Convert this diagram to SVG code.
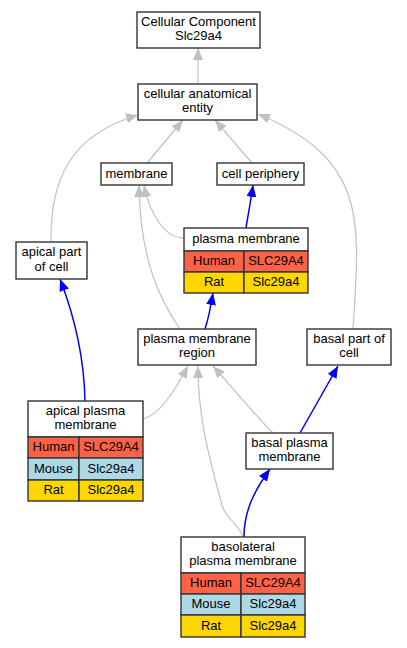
<svg xmlns="http://www.w3.org/2000/svg" width="407" height="648" viewBox="0 0 407 648">
<style>
text{font-family:"Liberation Sans",Arial,sans-serif;font-size:13px;fill:#000;text-anchor:middle}
.b{fill:#fff;stroke:#333;stroke-width:1.4}
.h{fill:#ff6347;stroke:#333;stroke-width:1.4}
.m{fill:#add8e6;stroke:#333;stroke-width:1.4}
.r{fill:#ffd700;stroke:#333;stroke-width:1.4}
.g{fill:none;stroke:#c0c0c0;stroke-width:1.2;marker-end:url(#ag)}
.u{fill:none;stroke:#0000ff;stroke-width:1.5;marker-end:url(#ab)}
</style>
<defs>
<marker id="ag" markerWidth="12" markerHeight="10" refX="12" refY="5" orient="auto" markerUnits="userSpaceOnUse"><path d="M0,0 L12,5 L0,10 z" fill="#c0c0c0"/></marker>
<marker id="ab" markerWidth="12" markerHeight="10" refX="12" refY="5" orient="auto" markerUnits="userSpaceOnUse"><path d="M0,0 L12,5 L0,10 z" fill="#0000ff"/></marker>
</defs>
<rect width="407" height="648" fill="#fff"/>
<g id="connectors">
<path class="g" d="M198,84 L198,48"/>
<path class="g" d="M147,163 L183,120"/>
<path class="g" d="M252,163 L215,120"/>
<path class="g" d="M51,242 C50,180 70,135 138,115"/>
<path class="g" d="M353,329 C360,220 368,160 258,114"/>
<path class="g" d="M184,238 C165,238 150,215 144,185"/>
<path class="g" d="M180,329 C160,300 140,260 139,185"/>
<path class="u" d="M246,228 C248,215 251,200 253,185"/>
<path class="u" d="M205,329 C208,320 211,305 213,293"/>
<path class="u" d="M85,401 C84,350 72,310 60,279"/>
<path class="g" d="M143,419 C160,415 175,390 188,366"/>
<path class="g" d="M273,433 C255,415 230,385 213,366"/>
<path class="g" d="M243,537 C238,522 226,520 222,505 C210,460 198,420 198,366"/>
<path class="u" d="M300,433 L338,366"/>
<path class="u" d="M244,537 C244,510 255,490 270,469"/>
</g>
<g id="n_cc">
<rect class="b" x="137" y="12" width="123" height="36"/>
<text x="198.5" y="25.75">Cellular Component</text>
<text x="198.5" y="40.25">Slc29a4</text>
</g>
<g id="n_cae">
<rect class="b" x="138" y="84" width="119" height="36"/>
<text x="197.5" y="97.75">cellular anatomical</text>
<text x="197.5" y="112.25">entity</text>
</g>
<g id="n_membrane">
<rect class="b" x="101" y="163" width="71" height="22"/>
<text x="136.5" y="177.5">membrane</text>
</g>
<g id="n_cellperiphery">
<rect class="b" x="217" y="163" width="87" height="22"/>
<text x="260.5" y="177.5">cell periphery</text>
</g>
<g id="n_apicalpart">
<rect class="b" x="16" y="242" width="71" height="37"/>
<text x="51.5" y="256.25">apical part</text>
<text x="51.5" y="270.75">of cell</text>
</g>
<g id="n_pm">
<rect class="b" x="184" y="228" width="124" height="23"/>
<text x="246" y="243">plasma membrane</text>
<rect class="h" x="184" y="251" width="60" height="21"/>
<rect class="h" x="244" y="251" width="64" height="21"/>
<text x="214" y="265">Human</text>
<text x="276" y="265">SLC29A4</text>
<rect class="r" x="184" y="272" width="60" height="21"/>
<rect class="r" x="244" y="272" width="64" height="21"/>
<text x="214" y="286">Rat</text>
<text x="276" y="286">Slc29a4</text>
</g>
<g id="n_pmr">
<rect class="b" x="138" y="329" width="118" height="36"/>
<text x="197" y="342.75">plasma membrane</text>
<text x="197" y="357.25">region</text>
</g>
<g id="n_basalpart">
<rect class="b" x="307" y="329" width="84" height="36"/>
<text x="349" y="342.75">basal part of</text>
<text x="349" y="357.25">cell</text>
</g>
<g id="n_apm">
<rect class="b" x="28" y="401" width="115" height="36"/>
<text x="85.5" y="414.75">apical plasma</text>
<text x="85.5" y="429.25">membrane</text>
<rect class="h" x="28" y="437" width="51" height="21"/>
<rect class="h" x="79" y="437" width="64" height="21"/>
<text x="53.5" y="451">Human</text>
<text x="111" y="451">SLC29A4</text>
<rect class="m" x="28" y="458" width="51" height="22"/>
<rect class="m" x="79" y="458" width="64" height="22"/>
<text x="53.5" y="472.5">Mouse</text>
<text x="111" y="472.5">Slc29a4</text>
<rect class="r" x="28" y="480" width="51" height="21"/>
<rect class="r" x="79" y="480" width="64" height="21"/>
<text x="53.5" y="494">Rat</text>
<text x="111" y="494">Slc29a4</text>
</g>
<g id="n_bpm">
<rect class="b" x="246" y="433" width="87" height="36"/>
<text x="289.5" y="446.75">basal plasma</text>
<text x="289.5" y="461.25">membrane</text>
</g>
<g id="n_blpm">
<rect class="b" x="181" y="537" width="124" height="36"/>
<text x="243" y="550.75">basolateral</text>
<text x="243" y="565.25">plasma membrane</text>
<rect class="h" x="181" y="573" width="60" height="21"/>
<rect class="h" x="241" y="573" width="64" height="21"/>
<text x="211" y="587">Human</text>
<text x="273" y="587">SLC29A4</text>
<rect class="m" x="181" y="594" width="60" height="21"/>
<rect class="m" x="241" y="594" width="64" height="21"/>
<text x="211" y="608">Mouse</text>
<text x="273" y="608">Slc29a4</text>
<rect class="r" x="181" y="615" width="60" height="22"/>
<rect class="r" x="241" y="615" width="64" height="22"/>
<text x="211" y="629.5">Rat</text>
<text x="273" y="629.5">Slc29a4</text>
</g>
</svg>
